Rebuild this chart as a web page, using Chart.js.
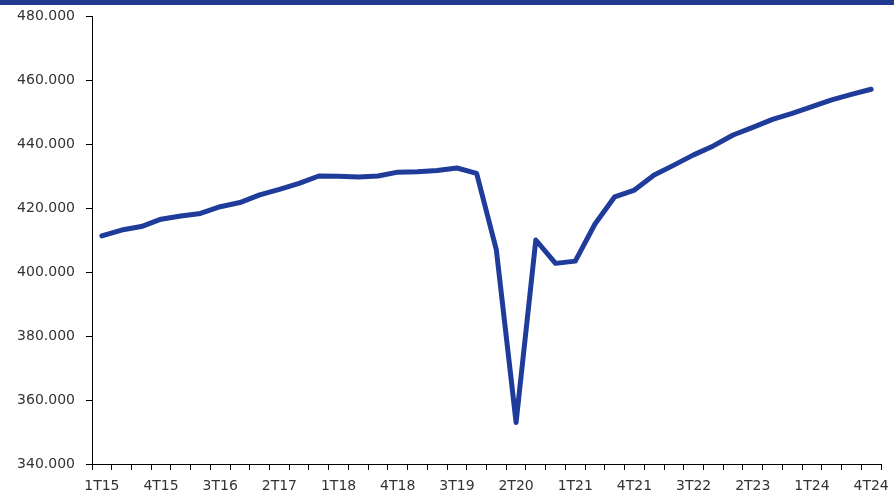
<!DOCTYPE html>
<html>
<head>
<meta charset="utf-8">
<script src="https://cdn.jsdelivr.net/npm/chart.js@4/dist/chart.umd.min.js"></script>
<style>
  html, body { margin: 0; padding: 0; background: #ffffff; }
  #wrap { position: relative; width: 894px; height: 501px; }
  #band { position: absolute; left: 0; top: 0; width: 894px; height: 5px; background: #1f3a8f; }
  canvas { position: absolute; left: 0; top: 0; }
</style>
</head>
<body>
<div id="wrap">
  <canvas id="c" width="894" height="501"></canvas>
  <div id="band"></div>
</div>
<script>
const categories = [
  '1T15','2T15','3T15','4T15',
  '1T16','2T16','3T16','4T16',
  '1T17','2T17','3T17','4T17',
  '1T18','2T18','3T18','4T18',
  '1T19','2T19','3T19','4T19',
  '1T20','2T20','3T20','4T20',
  '1T21','2T21','3T21','4T21',
  '1T22','2T22','3T22','4T22',
  '1T23','2T23','3T23','4T23',
  '1T24','2T24','3T24','4T24'
];
const values = [
  411300, 413100, 414200, 416500,
  417500, 418300, 420400, 421700,
  424100, 425800, 427700, 430000,
  429900, 429700, 430000, 431200,
  431300, 431700, 432500, 430800,
  406900, 353000, 410000, 402700,
  403400, 415000, 423500, 425600,
  430300, 433400, 436600, 439400,
  442800, 445200, 447700, 449600,
  451700, 453800, 455500, 457100
];
const yMin = 340000;
const yMax = 480000;
const yStep = 20000;
const labelEvery = 3;

function fmt(v) {
  return Math.round(v).toString().replace(/\B(?=(\d{3})+(?!\d))/g, '.');
}

new Chart(document.getElementById('c'), {
  type: 'line',
  data: {
    labels: categories,
    datasets: [{
      data: values,
      borderColor: '#1f3c9a',
      borderWidth: 5,
      pointRadius: 0,
      tension: 0,
      fill: false,
      borderCapStyle: 'round',
      borderJoinStyle: 'round'
    }]
  },
  options: {
    responsive: false,
    animation: false,
    layout: { padding: { top: 16, right: 13, left: 0, bottom: 0 } },
    plugins: { legend: { display: false }, tooltip: { enabled: false } },
    scales: {
      x: {
        type: 'category',
        offset: true,
        grid: { display: true, offset: true, drawOnChartArea: false, drawTicks: true, tickLength: 6, color: '#000000', lineWidth: 1 },
        border: { display: true, color: '#000000', width: 1 },
        ticks: {
          autoSkip: false,
          maxRotation: 0,
          minRotation: 0,
          padding: 8,
          color: '#333333',
          font: { family: 'DejaVu Sans', size: 14 },
          callback: function (val, i) { return i % labelEvery === 0 ? categories[i] : ''; }
        },
        afterFit: function (s) { s.height = 37; s.paddingLeft = 0; s.paddingRight = 0; }
      },
      y: {
        min: yMin,
        max: yMax,
        grid: { display: true, drawOnChartArea: false, drawTicks: true, tickLength: 6, color: '#000000', lineWidth: 1 },
        border: { display: true, color: '#000000', width: 1 },
        ticks: {
          stepSize: yStep,
          padding: 11,
          color: '#333333',
          font: { family: 'DejaVu Sans', size: 14 },
          callback: function (v) { return fmt(v); }
        },
        afterFit: function (s) { s.width = 92; s.paddingTop = 0; s.paddingBottom = 0; }
      }
    }
  }
});
</script>
</body>
</html>
